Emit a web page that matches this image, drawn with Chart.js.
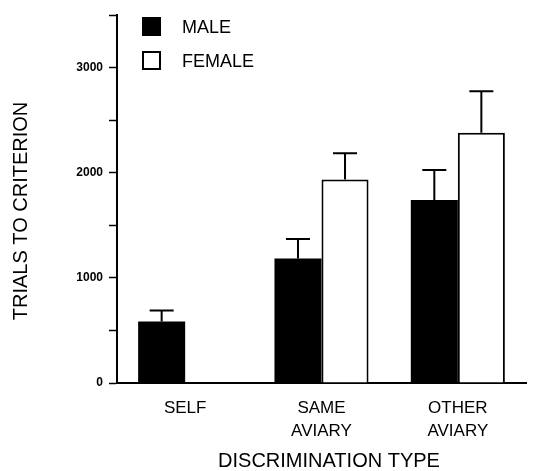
<!DOCTYPE html>
<html>
<head>
<meta charset="utf-8">
<script src="https://cdn.jsdelivr.net/npm/chart.js@4/dist/chart.umd.min.js"></script>
<style>
  html, body { margin: 0; padding: 0; background: #fff; }
  canvas { display: block; }
</style>
</head>
<body>
<canvas id="chart" width="534" height="471"></canvas>
<script>
// data
const categories = [['SELF'], ['SAME', 'AVIARY'], ['OTHER', 'AVIARY']];
const maleMeans = [585, 1185, 1740];
const femaleMeans = [null, 1935, 2380];
const maleErrors = [105, 185, 285];
const femaleErrors = [null, 250, 395];
const yTicks = [0, 1000, 2000, 3000];

const FONT = '"Liberation Sans", Arial, Helvetica, sans-serif';

// upward-only error bars with a short cap
const errorBars = {
    id: 'errorBars',
    afterDatasetsDraw(chart) {
        const ctx = chart.ctx;
        const yScale = chart.scales.y;
        ctx.save();
        ctx.strokeStyle = '#000';
        ctx.lineWidth = 2;
        chart.data.datasets.forEach((ds, i) => {
            const meta = chart.getDatasetMeta(i);
            meta.data.forEach((bar, j) => {
                const v = ds.data[j];
                const e = ds.errors[j];
                if (v == null || e == null) return;
                const yTop = yScale.getPixelForValue(v + e);
                ctx.beginPath();
                ctx.moveTo(bar.x, bar.y);
                ctx.lineTo(bar.x, yTop);
                ctx.moveTo(bar.x - 12, yTop);
                ctx.lineTo(bar.x + 12, yTop);
                ctx.stroke();
            });
        });
        ctx.restore();
    }
};

// legend in the top-left of the plot + axis titles
const decorations = {
    id: 'decorations',
    afterDraw(chart) {
        const ctx = chart.ctx;
        const area = chart.chartArea;
        ctx.save();

        ctx.font = '18px ' + FONT;
        ctx.textBaseline = 'middle';
        ctx.fillStyle = '#000';
        chart.data.datasets.forEach((ds, i) => {
            const bx = area.left + 25;
            const by = area.top + 2 + i * 34;
            ctx.fillStyle = ds.backgroundColor;
            ctx.fillRect(bx, by, 19, 19);
            ctx.strokeStyle = '#000';
            ctx.lineWidth = 2;
            ctx.strokeRect(bx + 1, by + 1, 17, 17);
            ctx.fillStyle = '#000';
            ctx.fillText(ds.label, bx + 40, by + 11);
        });

        ctx.font = '20px ' + FONT;
        ctx.textAlign = 'center';
        ctx.fillText('DISCRIMINATION TYPE', 329, 461);

        ctx.translate(21, 211);
        ctx.rotate(-Math.PI / 2);
        ctx.fillText('TRIALS TO CRITERION', 0, 0);
        ctx.restore();
    }
};

new Chart(document.getElementById('chart'), {
    type: 'bar',
    data: {
        labels: categories,
        datasets: [
            {
                label: 'MALE',
                data: maleMeans,
                errors: maleErrors,
                backgroundColor: '#000',
                borderColor: '#000',
                borderWidth: 0
            },
            {
                label: 'FEMALE',
                data: femaleMeans,
                errors: femaleErrors,
                backgroundColor: '#fff',
                borderColor: '#000',
                borderWidth: 2
            }
        ]
    },
    options: {
        responsive: false,
        devicePixelRatio: 1,
        animation: false,
        events: [],
        categoryPercentage: 0.69,
        barPercentage: 1,
        layout: { padding: { left: 0, top: 15, right: 8, bottom: 0 } },
        plugins: {
            legend: { display: false },
            tooltip: { enabled: false }
        },
        scales: {
            x: {
                afterFit: s => { s.height = 88; },
                grid: { display: true, drawOnChartArea: false, drawTicks: false, tickLength: 0 },
                border: { display: true, color: '#000', width: 2 },
                ticks: {
                    color: '#000',
                    padding: 13,
                    font: { family: FONT, size: 17, lineHeight: 1.4 }
                }
            },
            y: {
                min: 0,
                max: 3500,
                afterFit: s => { s.width = 117; },
                grid: { display: true, drawOnChartArea: false, color: '#000', tickLength: 8, tickWidth: 1.5 },
                border: { display: true, color: '#000', width: 2 },
                ticks: {
                    stepSize: 500,
                    color: '#000',
                    padding: 6,
                    font: { family: FONT, size: 12, weight: 'bold' },
                    callback: v => yTicks.includes(v) ? String(v) : ''
                }
            }
        }
    },
    plugins: [errorBars, decorations]
});
</script>
</body>
</html>
